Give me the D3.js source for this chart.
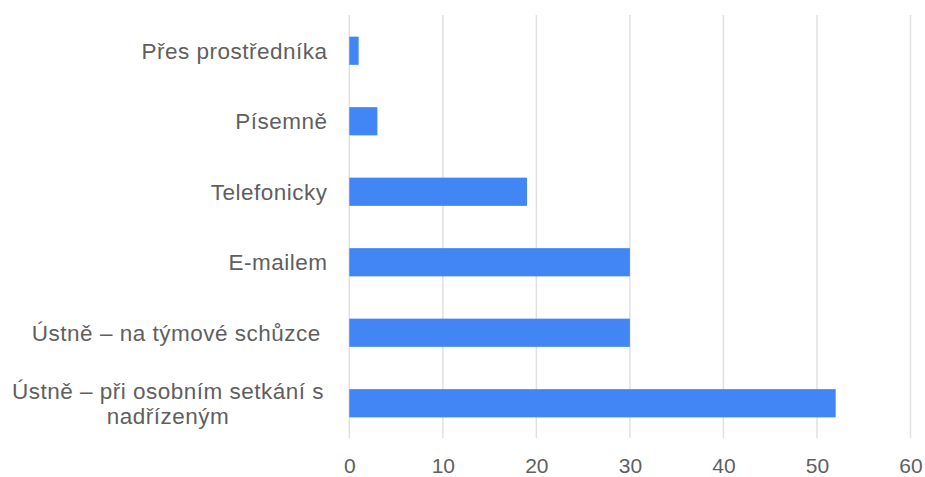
<!DOCTYPE html>
<html>
<head>
<meta charset="utf-8">
<script src="https://cdn.jsdelivr.net/npm/d3@7/dist/d3.min.js"></script>
<style>
  html, body { margin: 0; padding: 0; background: #ffffff; }
  svg { display: block; }
  .cat text { white-space: pre; }
</style>
</head>
<body>
<svg id="chart" width="925" height="477"></svg>
<script>
// Ways of communicating with the supervisor (number of responses)
const categories = [
  ["Přes prostředníka"],
  ["Písemně"],
  ["Telefonicky"],
  ["E-mailem"],
  ["Ústně – na týmové schůzce "],
  ["Ústně – při osobním setkání s", "nadřízeným"]
];
const values = [1, 3, 19, 30, 30, 52];
const tickValues = [0, 10, 20, 30, 40, 50, 60];

const svg = d3.select("#chart");
const fontFamily = "'Liberation Sans', Arial, sans-serif";

const x = d3.scaleLinear().domain([0, 60]).range([349.3, 910.5]);
const y = d3.scaleBand()
  .domain(d3.range(categories.length))
  .range([15.5, 438.5])
  .paddingInner(0.6)
  .paddingOuter(0.3);

// vertical gridlines
svg.append("g")
  .selectAll("line")
  .data(tickValues)
  .join("line")
  .attr("x1", d => x(d)).attr("x2", d => x(d))
  .attr("y1", 15).attr("y2", 438)
  .attr("stroke", "#e0e0e0")
  .attr("stroke-width", 1.5);

// bars
svg.append("g")
  .selectAll("rect")
  .data(values)
  .join("rect")
  .attr("x", x(0))
  .attr("y", (d, i) => y(i))
  .attr("width", d => x(d) - x(0))
  .attr("height", y.bandwidth())
  .attr("fill", "#4285f4");

// x axis tick labels
const xAxis = d3.axisBottom(x).tickValues(tickValues).tickSize(0).tickPadding(0);
const gx = svg.append("g").attr("transform", "translate(0,472.5)").call(xAxis);
gx.select(".domain").remove();
gx.selectAll("text")
  .attr("font-family", fontFamily)
  .attr("font-size", 21)
  .attr("fill", "#5f5f5f")
  .attr("y", 0)
  .attr("dy", 0);

// category labels
const labelGroup = svg.append("g").attr("class", "cat");
categories.forEach((lines, i) => {
  const cy = y(i) + y.bandwidth() / 2;
  const lineH = 25;
  const t = labelGroup.append("text")
    .attr("font-family", fontFamily)
    .attr("font-size", 22.5)
    .attr("letter-spacing", 0.5)
    .attr("fill", "#5f5f5f");
  if (lines.length === 1) {
    t.attr("x", 327.5).attr("y", cy).attr("dy", "0.35em")
      .attr("text-anchor", "end")
      .text(lines[0]);
  } else {
    const cx = 168;
    lines.forEach((ln, k) => {
      t.append("tspan")
        .attr("x", cx)
        .attr("y", cy + (k - (lines.length - 1) / 2) * lineH)
        .attr("dy", "0.35em")
        .attr("text-anchor", "middle")
        .text(ln);
    });
  }
});
</script>
</body>
</html>
